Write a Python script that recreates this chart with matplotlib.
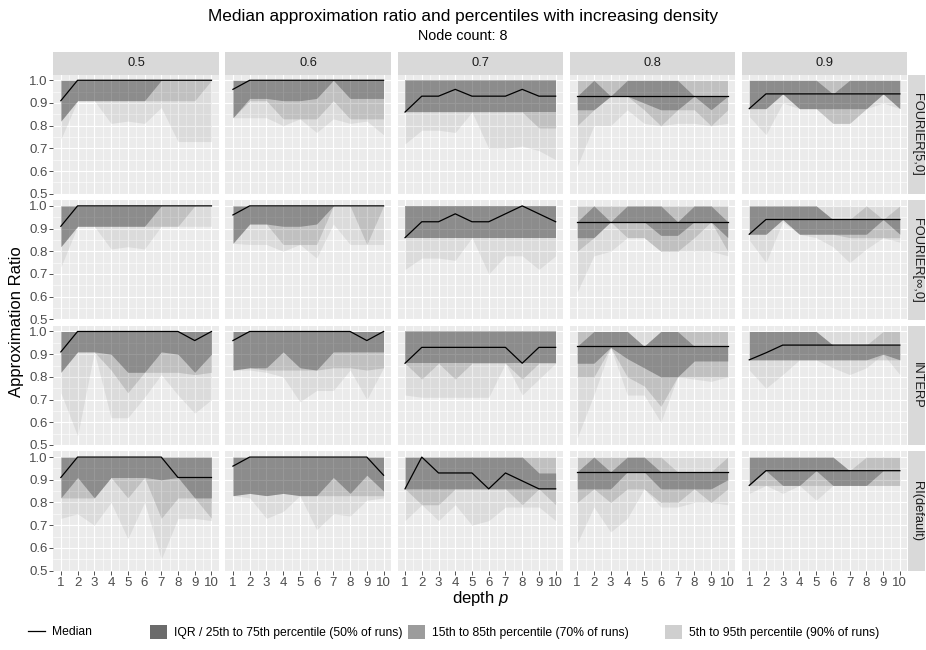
import matplotlib
matplotlib.use('Agg')
import matplotlib.pyplot as plt
from matplotlib.lines import Line2D
from matplotlib.patches import Patch

plt.rcParams['font.family'] = ['Liberation Sans', 'DejaVu Sans']
plt.rcParams['mathtext.fontset'] = 'custom'
plt.rcParams['mathtext.rm'] = 'Liberation Sans'
plt.rcParams['mathtext.it'] = 'Liberation Sans:italic'

depth = [1, 2, 3, 4, 5, 6, 7, 8, 9, 10]
densities = ['0.5', '0.6', '0.7', '0.8', '0.9']
methods = ['FOURIER[5,0]', 'FOURIER[\u221e,0]', 'INTERP', 'RI(default)']

# ---- FOURIER[5,0] ----  (one row per density 0.5 .. 0.9)
f5_med = [[0.91, 1.0, 1.0, 1.0, 1.0, 1.0, 1.0, 1.0, 1.0, 1.0],
          [0.96, 1.0, 1.0, 1.0, 1.0, 1.0, 1.0, 1.0, 1.0, 1.0],
          [0.86, 0.93, 0.93, 0.96, 0.93, 0.93, 0.93, 0.96, 0.93, 0.93],
          [0.93, 0.93, 0.93, 0.93, 0.93, 0.93, 0.93, 0.93, 0.93, 0.93],
          [0.875, 0.94, 0.94, 0.94, 0.94, 0.94, 0.94, 0.94, 0.94, 0.94]]
f5_q05 = [[0.74, 0.91, 0.91, 0.81, 0.82, 0.81, 0.88, 0.73, 0.73, 0.73],
          [0.835, 0.835, 0.835, 0.80, 0.83, 0.77, 0.83, 0.81, 0.82, 0.76],
          [0.72, 0.78, 0.78, 0.77, 0.86, 0.70, 0.70, 0.71, 0.69, 0.65],
          [0.62, 0.80, 0.80, 0.87, 0.81, 0.80, 0.81, 0.81, 0.80, 0.81],
          [0.84, 0.76, 0.90, 0.875, 0.875, 0.81, 0.81, 0.875, 0.90, 0.875]]
f5_q15 = [[0.82, 0.91, 0.91, 0.91, 0.91, 0.91, 0.91, 0.91, 0.91, 1.0],
          [0.835, 0.91, 0.91, 0.83, 0.83, 0.83, 0.91, 0.83, 0.83, 0.83],
          [0.86, 0.86, 0.86, 0.86, 0.86, 0.86, 0.86, 0.86, 0.79, 0.79],
          [0.80, 0.87, 0.93, 0.93, 0.87, 0.80, 0.87, 0.87, 0.80, 0.87],
          [0.875, 0.875, 0.94, 0.875, 0.875, 0.81, 0.81, 0.875, 0.94, 0.875]]
f5_q25 = [[0.82, 0.91, 0.91, 0.91, 0.91, 0.91, 1.0, 1.0, 1.0, 1.0],
          [0.835, 0.92, 0.92, 0.91, 0.91, 0.92, 1.0, 0.92, 0.92, 0.92],
          [0.86, 0.86, 0.86, 0.86, 0.86, 0.86, 0.86, 0.86, 0.86, 0.86],
          [0.87, 0.87, 0.93, 0.93, 0.90, 0.87, 0.87, 0.93, 0.87, 0.93],
          [0.875, 0.875, 0.94, 0.875, 0.875, 0.875, 0.875, 0.875, 0.94, 0.875]]
f5_q75 = [[1.0, 1.0, 1.0, 1.0, 1.0, 1.0, 1.0, 1.0, 1.0, 1.0],
          [1.0, 1.0, 1.0, 1.0, 1.0, 1.0, 1.0, 1.0, 1.0, 1.0],
          [1.0, 1.0, 1.0, 1.0, 1.0, 1.0, 1.0, 1.0, 1.0, 1.0],
          [0.93, 1.0, 0.93, 1.0, 1.0, 1.0, 1.0, 0.93, 0.93, 0.93],
          [1.0, 1.0, 1.0, 1.0, 1.0, 0.94, 1.0, 1.0, 1.0, 1.0]]
f5_q85 = [[1.0, 1.0, 1.0, 1.0, 1.0, 1.0, 1.0, 1.0, 1.0, 1.0],
          [1.0, 1.0, 1.0, 1.0, 1.0, 1.0, 1.0, 1.0, 1.0, 1.0],
          [1.0, 1.0, 1.0, 1.0, 1.0, 1.0, 1.0, 1.0, 1.0, 1.0],
          [1.0, 1.0, 1.0, 1.0, 1.0, 1.0, 1.0, 1.0, 1.0, 1.0],
          [1.0, 1.0, 1.0, 1.0, 1.0, 1.0, 1.0, 1.0, 1.0, 1.0]]
f5_q95 = f5_q85

# ---- FOURIER[inf,0] ----
fi_med = [[0.91, 1.0, 1.0, 1.0, 1.0, 1.0, 1.0, 1.0, 1.0, 1.0],
          [0.96, 1.0, 1.0, 1.0, 1.0, 1.0, 1.0, 1.0, 1.0, 1.0],
          [0.86, 0.93, 0.93, 0.965, 0.93, 0.93, 0.965, 1.0, 0.965, 0.93],
          [0.93, 0.93, 0.93, 0.93, 0.93, 0.93, 0.93, 0.93, 0.93, 0.93],
          [0.875, 0.94, 0.94, 0.94, 0.94, 0.94, 0.94, 0.94, 0.94, 0.94]]
fi_q05 = [[0.73, 0.91, 0.91, 0.81, 0.82, 0.81, 0.91, 0.91, 0.91, 0.91],
          [0.835, 0.83, 0.83, 0.80, 0.83, 0.77, 0.92, 0.83, 0.83, 0.83],
          [0.72, 0.77, 0.77, 0.76, 0.86, 0.70, 0.78, 0.78, 0.72, 0.78],
          [0.62, 0.78, 0.80, 0.86, 0.86, 0.80, 0.80, 0.80, 0.80, 0.78],
          [0.85, 0.75, 0.93, 0.875, 0.86, 0.82, 0.75, 0.81, 0.86, 0.84]]
fi_q15 = [[0.82, 0.91, 0.91, 0.91, 0.91, 0.91, 0.91, 0.91, 1.0, 1.0],
          [0.835, 0.92, 0.92, 0.83, 0.83, 0.83, 1.0, 1.0, 0.83, 1.0],
          [0.86, 0.86, 0.86, 0.86, 0.86, 0.86, 0.86, 0.86, 0.86, 0.86],
          [0.80, 0.86, 0.93, 0.86, 0.86, 0.80, 0.80, 0.86, 0.93, 0.80],
          [0.875, 0.875, 0.94, 0.875, 0.875, 0.875, 0.86, 0.86, 0.86, 0.86]]
fi_q25 = [[0.82, 0.91, 0.91, 0.91, 0.91, 0.91, 1.0, 1.0, 1.0, 1.0],
          [0.835, 0.92, 0.92, 0.91, 0.91, 0.92, 1.0, 1.0, 1.0, 1.0],
          [0.86, 0.86, 0.86, 0.86, 0.86, 0.86, 0.86, 0.86, 0.86, 0.86],
          [0.86, 0.86, 0.93, 0.93, 0.93, 0.87, 0.87, 0.93, 0.93, 0.86],
          [0.875, 0.875, 0.94, 0.875, 0.875, 0.875, 0.875, 0.875, 0.94, 0.875]]
fi_q75 = [[1.0, 1.0, 1.0, 1.0, 1.0, 1.0, 1.0, 1.0, 1.0, 1.0],
          [1.0, 1.0, 1.0, 1.0, 1.0, 1.0, 1.0, 1.0, 1.0, 1.0],
          [1.0, 1.0, 1.0, 1.0, 1.0, 1.0, 1.0, 1.0, 1.0, 1.0],
          [0.93, 1.0, 0.93, 1.0, 1.0, 1.0, 0.93, 1.0, 1.0, 0.93],
          [1.0, 1.0, 1.0, 1.0, 1.0, 0.94, 0.94, 0.94, 0.94, 0.94]]
fi_q85 = [[1.0, 1.0, 1.0, 1.0, 1.0, 1.0, 1.0, 1.0, 1.0, 1.0],
          [1.0, 1.0, 1.0, 1.0, 1.0, 1.0, 1.0, 1.0, 1.0, 1.0],
          [1.0, 1.0, 1.0, 1.0, 1.0, 1.0, 1.0, 1.0, 1.0, 1.0],
          [1.0, 1.0, 1.0, 1.0, 1.0, 1.0, 1.0, 1.0, 1.0, 1.0],
          [1.0, 1.0, 1.0, 1.0, 1.0, 0.94, 0.94, 1.0, 0.94, 1.0]]
fi_q95 = [[1.0, 1.0, 1.0, 1.0, 1.0, 1.0, 1.0, 1.0, 1.0, 1.0],
          [1.0, 1.0, 1.0, 1.0, 1.0, 1.0, 1.0, 1.0, 1.0, 1.0],
          [1.0, 1.0, 1.0, 1.0, 1.0, 1.0, 1.0, 1.0, 1.0, 1.0],
          [1.0, 1.0, 1.0, 1.0, 1.0, 1.0, 1.0, 1.0, 1.0, 1.0],
          [1.0, 1.0, 1.0, 1.0, 1.0, 1.0, 1.0, 1.0, 1.0, 1.0]]

# ---- INTERP ----
in_med = [[0.91, 1.0, 1.0, 1.0, 1.0, 1.0, 1.0, 1.0, 0.96, 1.0],
          [0.96, 1.0, 1.0, 1.0, 1.0, 1.0, 1.0, 1.0, 0.96, 1.0],
          [0.86, 0.93, 0.93, 0.93, 0.93, 0.93, 0.93, 0.86, 0.93, 0.93],
          [0.935, 0.935, 0.935, 0.935, 0.935, 0.935, 0.935, 0.935, 0.935, 0.935],
          [0.875, 0.906, 0.94, 0.94, 0.94, 0.94, 0.94, 0.94, 0.94, 0.94]]
in_q05 = [[0.73, 0.54, 0.91, 0.62, 0.62, 0.71, 0.81, 0.72, 0.64, 0.70],
          [0.83, 0.83, 0.82, 0.80, 0.69, 0.74, 0.74, 0.83, 0.70, 0.84],
          [0.72, 0.71, 0.71, 0.71, 0.71, 0.71, 0.86, 0.72, 0.79, 0.86],
          [0.53, 0.72, 0.93, 0.72, 0.72, 0.60, 0.80, 0.79, 0.78, 0.80],
          [0.83, 0.75, 0.81, 0.875, 0.875, 0.84, 0.81, 0.84, 0.90, 0.81]]
in_q15 = [[0.82, 0.91, 0.91, 0.83, 0.73, 0.82, 0.82, 0.82, 0.81, 0.82],
          [0.83, 0.84, 0.83, 0.83, 0.83, 0.83, 0.84, 0.84, 0.83, 0.84],
          [0.86, 0.79, 0.86, 0.79, 0.86, 0.86, 0.86, 0.79, 0.86, 0.86],
          [0.80, 0.80, 0.93, 0.80, 0.76, 0.67, 0.80, 0.80, 0.80, 0.80],
          [0.875, 0.875, 0.875, 0.875, 0.875, 0.875, 0.875, 0.875, 0.875, 0.875]]
in_q25 = [[0.82, 0.91, 0.91, 0.90, 0.82, 0.82, 0.91, 0.90, 0.82, 0.90],
          [0.83, 0.84, 0.84, 0.91, 0.84, 0.83, 0.91, 0.91, 0.91, 0.91],
          [0.86, 0.86, 0.86, 0.86, 0.86, 0.86, 0.86, 0.86, 0.86, 0.86],
          [0.86, 0.86, 0.93, 0.88, 0.84, 0.80, 0.80, 0.87, 0.87, 0.87],
          [0.875, 0.875, 0.875, 0.875, 0.875, 0.875, 0.875, 0.875, 0.90, 0.875]]
in_q75 = [[1.0, 1.0, 1.0, 1.0, 1.0, 1.0, 1.0, 1.0, 1.0, 1.0],
          [1.0, 1.0, 1.0, 1.0, 1.0, 1.0, 1.0, 1.0, 1.0, 1.0],
          [1.0, 1.0, 1.0, 1.0, 1.0, 1.0, 1.0, 1.0, 1.0, 1.0],
          [0.935, 1.0, 1.0, 1.0, 0.935, 1.0, 1.0, 0.935, 0.935, 0.935],
          [1.0, 1.0, 1.0, 1.0, 1.0, 0.94, 0.94, 0.94, 0.94, 0.94]]
in_q85 = [[1.0, 1.0, 1.0, 1.0, 1.0, 1.0, 1.0, 1.0, 1.0, 1.0],
          [1.0, 1.0, 1.0, 1.0, 1.0, 1.0, 1.0, 1.0, 1.0, 1.0],
          [1.0, 1.0, 1.0, 1.0, 1.0, 1.0, 1.0, 1.0, 1.0, 1.0],
          [1.0, 1.0, 1.0, 1.0, 0.935, 1.0, 1.0, 1.0, 1.0, 1.0],
          [1.0, 1.0, 1.0, 1.0, 1.0, 0.94, 0.94, 0.94, 1.0, 1.0]]
in_q95 = fi_q95

# ---- RI(default) ----
ri_med = [[0.91, 1.0, 1.0, 1.0, 1.0, 1.0, 1.0, 0.91, 0.91, 0.91],
          [0.96, 1.0, 1.0, 1.0, 1.0, 1.0, 1.0, 1.0, 1.0, 0.92],
          [0.86, 1.0, 0.93, 0.93, 0.93, 0.86, 0.93, 0.895, 0.86, 0.86],
          [0.935, 0.935, 0.935, 0.935, 0.935, 0.935, 0.935, 0.935, 0.935, 0.935],
          [0.875, 0.94, 0.94, 0.94, 0.94, 0.94, 0.94, 0.94, 0.94, 0.94]]
ri_q05 = [[0.73, 0.75, 0.70, 0.80, 0.64, 0.80, 0.55, 0.73, 0.73, 0.72],
          [0.83, 0.82, 0.73, 0.76, 0.83, 0.68, 0.75, 0.74, 0.81, 0.82],
          [0.72, 0.79, 0.72, 0.79, 0.70, 0.72, 0.78, 0.78, 0.78, 0.72],
          [0.62, 0.78, 0.67, 0.73, 0.86, 0.78, 0.78, 0.80, 0.80, 0.79],
          [0.84, 0.875, 0.84, 0.875, 0.81, 0.875, 0.875, 0.875, 0.875, 0.875]]
ri_q15 = [[0.82, 0.82, 0.82, 0.91, 0.82, 0.91, 0.73, 0.82, 0.82, 0.73],
          [0.83, 0.84, 0.83, 0.84, 0.83, 0.83, 0.83, 0.83, 0.83, 0.83],
          [0.86, 0.79, 0.79, 0.86, 0.86, 0.86, 0.86, 0.79, 0.86, 0.79],
          [0.80, 0.86, 0.80, 0.86, 0.86, 0.80, 0.80, 0.86, 0.80, 0.86],
          [0.875, 0.875, 0.875, 0.875, 0.875, 0.875, 0.875, 0.875, 0.875, 0.875]]
ri_q25 = [[0.82, 0.91, 0.82, 0.91, 0.91, 0.91, 0.90, 0.91, 0.82, 0.82],
          [0.83, 0.84, 0.83, 0.84, 0.83, 0.83, 0.91, 0.84, 0.92, 0.85],
          [0.86, 0.86, 0.86, 0.86, 0.86, 0.86, 0.86, 0.86, 0.86, 0.86],
          [0.86, 0.86, 0.86, 0.935, 0.935, 0.86, 0.86, 0.86, 0.86, 0.90],
          [0.875, 0.94, 0.875, 0.875, 0.94, 0.875, 0.875, 0.875, 0.94, 0.94]]
ri_q75 = [[1.0, 1.0, 1.0, 1.0, 1.0, 1.0, 1.0, 1.0, 1.0, 1.0],
          [1.0, 1.0, 1.0, 1.0, 1.0, 1.0, 1.0, 1.0, 1.0, 1.0],
          [1.0, 1.0, 1.0, 1.0, 1.0, 1.0, 1.0, 1.0, 0.93, 0.93],
          [0.935, 1.0, 0.935, 1.0, 1.0, 0.935, 0.935, 0.935, 0.935, 0.935],
          [1.0, 1.0, 1.0, 1.0, 1.0, 1.0, 0.94, 0.94, 0.94, 0.94]]
ri_q85 = [[1.0, 1.0, 1.0, 1.0, 1.0, 1.0, 1.0, 1.0, 1.0, 1.0],
          [1.0, 1.0, 1.0, 1.0, 1.0, 1.0, 1.0, 1.0, 1.0, 1.0],
          [1.0, 1.0, 1.0, 1.0, 1.0, 1.0, 1.0, 1.0, 1.0, 1.0],
          [1.0, 1.0, 1.0, 1.0, 1.0, 1.0, 0.935, 0.935, 0.935, 1.0],
          [1.0, 1.0, 1.0, 1.0, 1.0, 1.0, 0.94, 1.0, 1.0, 1.0]]
ri_q95 = fi_q95

series = [
    (f5_med, f5_q05, f5_q15, f5_q25, f5_q75, f5_q85, f5_q95),
    (fi_med, fi_q05, fi_q15, fi_q25, fi_q75, fi_q85, fi_q95),
    (in_med, in_q05, in_q15, in_q25, in_q75, in_q85, in_q95),
    (ri_med, ri_q05, ri_q15, ri_q25, ri_q75, ri_q85, ri_q95),
]

legend_labels = ['IQR / 25th to 75th percentile (50% of runs)',
                 '15th to 85th percentile (70% of runs)',
                 '5th to 95th percentile (90% of runs)']

W, H = 926, 650
fig = plt.figure(figsize=(W / 100, H / 100), dpi=100)

# layout in pixels
left0, col_step, pw = 53.3, 172.1, 165.7
top0, row_step, ph = 74.6, 125.6, 119.5
strip_h, strip_w = 22.5, 17.0

def rect(x, y, w, h):
    return [x / W, 1 - (y + h) / H, w / W, h / H]

for r, m in enumerate(methods):
    med, q05, q15, q25, q75, q85, q95 = series[r]
    for c, d in enumerate(densities):
        x0 = left0 + c * col_step
        y0 = top0 + r * row_step
        ax = fig.add_axes(rect(x0, y0, pw, ph))
        ax.set_facecolor('#EBEBEB')
        ax.fill_between(depth, q05[c], q95[c], color='black', alpha=0.065, lw=0)
        ax.fill_between(depth, q15[c], q85[c], color='black', alpha=0.12, lw=0)
        ax.fill_between(depth, q25[c], q75[c], color='black', alpha=0.27, lw=0)
        ax.plot(depth, med[c], color='black', lw=0.9)
        ax.set_xlim(0.55, 10.45)
        ax.set_ylim(0.4985, 1.025)
        ax.set_xticks(depth)
        ax.set_xticks([1.5, 2.5, 3.5, 4.5, 5.5, 6.5, 7.5, 8.5, 9.5], minor=True)
        ax.set_yticks([0.5, 0.6, 0.7, 0.8, 0.9, 1.0])
        ax.set_yticks([0.55, 0.65, 0.75, 0.85, 0.95], minor=True)
        ax.grid(which='major', color='white', lw=0.8)
        ax.grid(which='minor', color='white', lw=0.4)
        ax.set_axisbelow(True)
        for s in ax.spines.values():
            s.set_visible(False)
        ax.tick_params(which='minor', length=0)
        ax.tick_params(which='major', length=2.75, width=0.6, color='#333333',
                       labelsize=9.5, labelcolor='#4D4D4D', pad=1.5)
        if c == 0:
            ax.set_yticklabels(['0.5', '0.6', '0.7', '0.8', '0.9', '1.0'])
        else:
            ax.tick_params(axis='y', length=0, labelleft=False)
        if r == 3:
            ax.set_xticklabels([str(v) for v in depth])
        else:
            ax.tick_params(axis='x', length=0, labelbottom=False)

# column strips
for c, d in enumerate(densities):
    sax = fig.add_axes(rect(left0 + c * col_step, top0 - strip_h, pw, strip_h))
    sax.set_facecolor('#D9D9D9')
    sax.set_xticks([]); sax.set_yticks([])
    for s in sax.spines.values():
        s.set_visible(False)
    sax.text(0.5, 0.5, d, ha='center', va='center', fontsize=9.3, color='#1A1A1A',
             transform=sax.transAxes)

# row strips
for r, m in enumerate(methods):
    rax = fig.add_axes(rect(left0 + 4 * col_step + pw + 1, top0 + r * row_step, strip_w, ph))
    rax.set_facecolor('#D9D9D9')
    rax.set_xticks([]); rax.set_yticks([])
    for s in rax.spines.values():
        s.set_visible(False)
    rax.text(0.5, 0.5, m, ha='center', va='center', rotation=-90, fontsize=9.3,
             color='#1A1A1A', transform=rax.transAxes)

fig.text(463 / W, 1 - 16 / H, 'Median approximation ratio and percentiles with increasing density',
         ha='center', va='center', fontsize=12.4, color='black')
fig.text(463 / W, 1 - 36 / H, 'Node count: 8', ha='center', va='center', fontsize=10.4,
         color='black')
fig.text(17 / W, 1 - 322 / H, 'Approximation Ratio', ha='center', va='center',
         rotation=90, fontsize=12)
fig.text((left0 + 4 * col_step + pw + left0) / 2 / W, 1 - 599 / H, 'depth $p$',
         ha='center', va='center', fontsize=12)

leg_y = 1 - 632 / H
fig.legend([Line2D([0], [0], color='black', lw=0.9)], ['Median'],
           loc='center left', bbox_to_anchor=(28 / W, leg_y), frameon=False,
           fontsize=8.7, handlelength=1.4, handletextpad=0.6, borderaxespad=0, borderpad=0)
key_colors = ['#6B6B6B', '#9C9C9C', '#CFCFCF']
key_x = [150, 408, 665]
for kc, kx, lab in zip(key_colors, key_x, legend_labels):
    fig.legend([Patch(color=kc, lw=0)], [lab],
               loc='center left', bbox_to_anchor=(kx / W, leg_y), frameon=False,
               fontsize=8.7, handlelength=1.4, handleheight=1.4, handletextpad=0.6,
               borderaxespad=0, borderpad=0)

fig.savefig('out.png', dpi=100)
